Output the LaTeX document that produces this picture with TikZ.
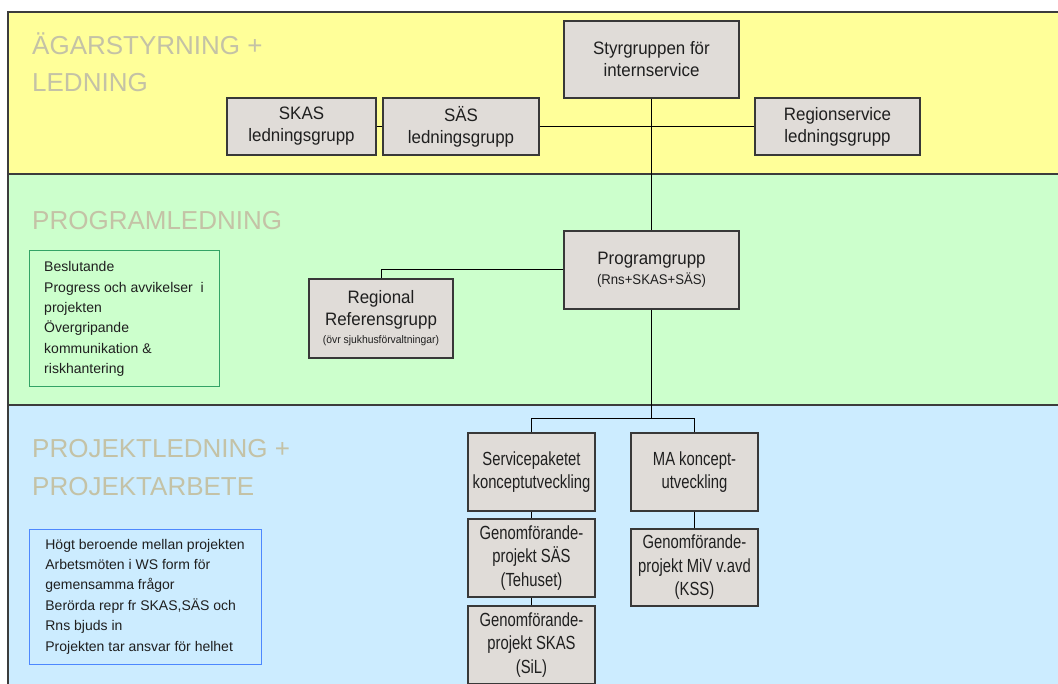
\documentclass[tikz,border=0pt]{standalone}
\usepackage{fontspec}
\setmainfont{Liberation Sans}
\newfontfamily\boxfont[FakeStretch=0.94]{Liberation Sans}
\newfontfamily\narrowfont[FakeStretch=0.78]{Liberation Sans}
\newfontfamily\notefont[LetterSpace=3]{Liberation Sans}

\definecolor{bandyellow}{HTML}{FFFF99}
\definecolor{bandgreen}{HTML}{CCFFCC}
\definecolor{bandblue}{HTML}{CCECFF}
\definecolor{bandline}{HTML}{3C3C3C}
\definecolor{boxfill}{HTML}{E0DCD8}
\definecolor{boxline}{HTML}{383838}
\definecolor{titlegray}{HTML}{C4C2A6}
\definecolor{notegreen}{HTML}{33A366}
\definecolor{noteblue}{HTML}{4D88FF}

\tikzset{
  band/.style={draw=bandline, line width=1.5pt},
  orgbox/.style={draw=boxline, fill=boxfill, line width=1.2pt, align=center,
    inner sep=0pt, text=black!88, font=\boxfont\fontsize{18}{22}\selectfont},
  lowbox/.style={orgbox, minimum width=127, font=\narrowfont\fontsize{19}{23.5}\selectfont},
  notebox/.style={line width=1pt, align=left, inner sep=0pt, text=black!88,
    font=\fontsize{14}{20.4}\selectfont},
  bandtitle/.style={anchor=base west, inner sep=0pt, text=titlegray,
    font=\fontsize{26}{30}\selectfont},
  conn/.style={draw=black, line width=1pt}
}

\begin{document}
\begin{tikzpicture}[x=1pt,y=-1pt]
\useasboundingbox (0,0) rectangle (1058,684);
\fill[white] (0,0) rectangle (1058,684);

% three horizontal bands
\filldraw[band, fill=bandyellow] (8,12) rectangle (1070,174);
\filldraw[band, fill=bandgreen] (8,174) rectangle (1070,405);
\filldraw[band, fill=bandblue] (8,405) rectangle (1070,700);

% band titles
\node[bandtitle] (t1a) at (32,55) {ÄGARSTYRNING +};
\node[bandtitle] (t1b) at (32,92) {LEDNING};
\node[bandtitle] (t2) at (32,230) {PROGRAMLEDNING};
\node[bandtitle] (t3a) at (32,458) {PROJEKTLEDNING +};
\node[bandtitle] (t3b) at (32,496) {PROJEKTARBETE};

% steering level
\node[orgbox, minimum width=175, minimum height=77] (styr) at (651.5,59.5)
  {Styrgruppen för\\internservice};
\node[orgbox, minimum width=149, minimum height=57] (skas) at (301.5,126.5)
  {SKAS\\ledningsgrupp};
\node[orgbox, minimum width=156, minimum height=57] (sas) at (461,126.5)
  {SÄS\\ledningsgrupp};
\node[orgbox, minimum width=165, minimum height=57] (region) at (837.5,126.5)
  {Regionservice\\ledningsgrupp};

% programme level
\node[orgbox, minimum width=175, minimum height=78] (prog) at (651.5,270)
  {Programgrupp\\[-2pt]{\fontsize{14}{16}\selectfont (Rns+SKAS+SÄS)}};
\node[orgbox, minimum width=144, minimum height=79] (ref) at (381,318.5)
  {Regional\\Referensgrupp\\[-4pt]{\fontsize{11}{13}\selectfont (övr sjukhusförvaltningar)}};

% project level
\node[lowbox, minimum height=78] (svc) at (531.5,472)
  {Servicepaketet\\konceptutveckling};
\node[lowbox, minimum height=78] (ma) at (694.5,472)
  {MA koncept-\\utveckling};
\node[lowbox, minimum height=78] (gsas) at (531.5,558)
  {Genomförande-\\projekt SÄS\\(Tehuset)};
\node[lowbox, minimum height=78] (gskas) at (531.5,645)
  {Genomförande-\\projekt SKAS\\(SiL)};
\node[lowbox, minimum height=77] (gmiv) at (694.5,567.5)
  {Genomförande-\\projekt MiV v.avd\\(KSS)};

% notes
\node[notebox, draw=notegreen, minimum width=190, minimum height=136] (note1) at (124,319)
  {Beslutande\\Progress och avvikelser\ \ i\\projekten\\Övergripande\\kommunikation \&\\riskhantering};
\node[notebox, draw=noteblue, minimum width=232, minimum height=135] (note2) at (145,596.5)
  {Högt beroende mellan projekten\\Arbetsmöten i WS form för\\gemensamma frågor\\Berörda repr fr SKAS,SÄS och\\Rns bjuds in\\Projekten tar ansvar för helhet};

% connectors
\coordinate (split) at (651.5,419);
\draw[conn] (skas.east) -- (sas.west);
\draw[conn] (sas.east) -- (region.west);
\draw[conn] (styr.south) -- (prog.north);
\draw[conn] (prog.west) -| (ref.north);
\draw[conn] (prog.south) -- (split);
\draw[conn] (split) -| (svc.north);
\draw[conn] (split) -| (ma.north);
\draw[conn] (svc.south) -- (gsas.north);
\draw[conn] (gsas.south) -- (gskas.north);
\draw[conn] (ma.south) -- (gmiv.north);
\end{tikzpicture}
\end{document}
